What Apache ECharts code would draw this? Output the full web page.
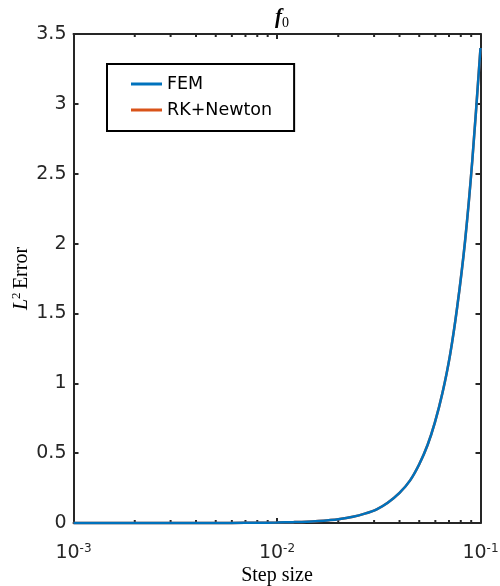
<!DOCTYPE html>
<html>
<head>
<meta charset="utf-8">
<script src="https://cdn.jsdelivr.net/npm/echarts@6/dist/echarts.min.js"></script>
<style>
  html, body { margin: 0; padding: 0; background: #fff; }
  #chart { width: 500px; height: 586px; }
</style>
</head>
<body>
<div id="chart"></div>
<script>
// Step sizes (log-spaced sweep) and L2 errors of both solvers
const stepSize = [0.001, 0.002, 0.004, 0.006, 0.008, 0.010, 0.012, 0.014, 0.016, 0.018,
                  0.020, 0.0236, 0.027, 0.0309, 0.035, 0.040, 0.0451, 0.050, 0.055, 0.0597,
                  0.065, 0.0708, 0.0769, 0.084, 0.0912, 0.100];
const errFEM = [0, 0, 0.0002, 0.0007, 0.0017, 0.0034, 0.006, 0.009, 0.014, 0.020,
                0.027, 0.045, 0.067, 0.098, 0.145, 0.215, 0.305, 0.42, 0.56, 0.72,
                0.93, 1.20, 1.55, 2.02, 2.60, 3.40];
const errRK = [0, 0, 0.0002, 0.0007, 0.0017, 0.0034, 0.006, 0.009, 0.014, 0.020,
               0.027, 0.045, 0.067, 0.098, 0.145, 0.215, 0.305, 0.42, 0.56, 0.72,
               0.93, 1.20, 1.55, 2.02, 2.60, 3.40];
const seriesNames = ['FEM', 'RK+Newton'];
// Minor tick positions of the logarithmic x axis (2..9 per decade)
const minorTickSteps = [0.002, 0.003, 0.004, 0.005, 0.006, 0.007, 0.008, 0.009,
                        0.02, 0.03, 0.04, 0.05, 0.06, 0.07, 0.08, 0.09];
const xRange = [0.001, 0.1];
const yRange = [0, 3.5];
const yStep = 0.5;

const axisColor = '#262626';
const sans = 'DejaVu Sans';
const serif = 'Liberation Serif';

const chart = echarts.init(document.getElementById('chart'), null, { renderer: 'canvas' });

function pair(xs, ys) { return xs.map((x, i) => [x, ys[i]]); }

const frameLine = { onZero: false, lineStyle: { color: axisColor, width: 2 } };
const majorTick = { show: true, inside: true, length: 5, lineStyle: { color: axisColor, width: 2 } };

const option = {
  animation: false,
  backgroundColor: '#fff',
  title: {
    text: '{i|f}{s|0}',
    left: 277,
    top: 1,
    textAlign: 'center',
    textStyle: {
      rich: {
        i: { fontFamily: serif, fontStyle: 'italic', fontSize: 21, color: '#000', lineHeight: 24 },
        s: { fontFamily: serif, fontSize: 14, color: '#000', fontWeight: 'normal', verticalAlign: 'bottom', lineHeight: 17 }
      }
    }
  },
  legend: {
    data: seriesNames,
    orient: 'vertical',
    left: 107,
    top: 64,
    padding: [10, 22, 11, 24],
    itemGap: 6,
    itemWidth: 31,
    itemHeight: 3,
    icon: 'rect',
    borderColor: '#000',
    borderWidth: 2,
    backgroundColor: '#fff',
    textStyle: { fontFamily: sans, fontSize: 17.5, color: '#000', lineHeight: 20 }
  },
  grid: { left: 73.5, right: 19.5, top: 34, bottom: 63, containLabel: false, outerBoundsMode: 'none' },
  xAxis: [{
    type: 'log',
    logBase: 10,
    min: xRange[0],
    max: xRange[1],
    position: 'bottom',
    name: 'Step size',
    nameLocation: 'middle',
    nameGap: 43,
    nameMoveOverlap: false,
    nameTextStyle: { fontFamily: serif, fontSize: 20, color: '#000' },
    axisLine: frameLine,
    axisTick: majorTick,
    splitLine: { show: false },
    axisLabel: {
      margin: 20,
      formatter: function (v) {
        const e = Math.round(Math.log10(v));
        return '{b|10}{e|' + e + '}';
      },
      rich: {
        b: { fontFamily: sans, fontSize: 19, color: axisColor, lineHeight: 20 },
        e: { fontFamily: sans, fontSize: 12, color: axisColor, lineHeight: 12, verticalAlign: 'top' }
      }
    }
  }, {
    type: 'log',
    logBase: 10,
    min: xRange[0],
    max: xRange[1],
    position: 'top',
    axisLine: frameLine,
    axisTick: majorTick,
    axisLabel: { show: false },
    splitLine: { show: false }
  }],
  yAxis: [{
    type: 'value',
    min: yRange[0],
    max: yRange[1],
    interval: yStep,
    position: 'left',
    name: '{i|L}{s|2} {r|Error}',
    nameLocation: 'middle',
    nameGap: 41,
    nameMoveOverlap: false,
    nameTextStyle: {
      rich: {
        i: { fontFamily: serif, fontStyle: 'italic', fontSize: 20, color: '#000', lineHeight: 22 },
        s: { fontFamily: serif, fontSize: 13, color: '#000', verticalAlign: 'top', lineHeight: 13 },
        r: { fontFamily: serif, fontSize: 20, color: '#000', lineHeight: 22 }
      }
    },
    axisLine: Object.assign({ show: true }, frameLine),
    axisTick: majorTick,
    splitLine: { show: false },
    axisLabel: { margin: 7, fontFamily: sans, fontSize: 19, color: axisColor }
  }, {
    type: 'value',
    min: yRange[0],
    max: yRange[1],
    interval: yStep,
    position: 'right',
    axisLine: Object.assign({ show: true }, frameLine),
    axisTick: majorTick,
    axisLabel: { show: false },
    splitLine: { show: false }
  }],
  series: [
    {
      // minor ticks of the log axis, drawn on the bottom and top edges
      type: 'custom',
      silent: true,
      xAxisIndex: 0,
      yAxisIndex: 0,
      data: minorTickSteps.map(h => [h]),
      renderItem: function (params, api) {
        const h = api.value(0);
        const b = api.coord([h, yRange[0]]);
        const t = api.coord([h, yRange[1]]);
        const style = { stroke: axisColor, lineWidth: 2 };
        return {
          type: 'group',
          children: [
            { type: 'line', shape: { x1: b[0], y1: b[1], x2: b[0], y2: b[1] - 3 }, style: style },
            { type: 'line', shape: { x1: t[0], y1: t[1], x2: t[0], y2: t[1] + 3 }, style: style }
          ]
        };
      },
      z: 1
    },
    {
      name: seriesNames[1],
      type: 'line',
      data: pair(stepSize, errRK),
      showSymbol: false,
      symbol: 'none',
      smooth: 0.3,
      color: '#D95319',
      lineStyle: { width: 2.5, color: '#D95319' },
      clip: false,
      z: 3
    },
    {
      name: seriesNames[0],
      type: 'line',
      data: pair(stepSize, errFEM),
      showSymbol: false,
      symbol: 'none',
      smooth: 0.3,
      color: '#0072BD',
      lineStyle: { width: 2.5, color: '#0072BD' },
      clip: false,
      z: 4
    }
  ]
};

chart.setOption(option);
</script>
</body>
</html>
